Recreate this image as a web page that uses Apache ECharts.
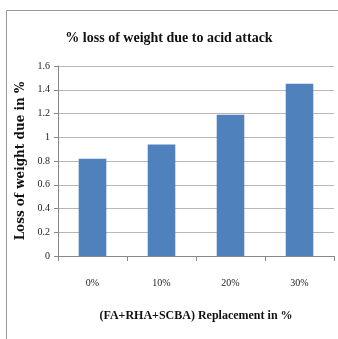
<!DOCTYPE html>
<html>
<head>
<meta charset="utf-8">
<script src="https://cdn.jsdelivr.net/npm/echarts@6/dist/echarts.min.js"></script>
<style>
    html, body { margin: 0; padding: 0; background: #fff; }
    #main { width: 338px; height: 339px; }
</style>
</head>
<body>
<div id="main"></div>
<script>
var categories = ['0%', '10%', '20%', '30%'];
var lossValues = [0.82, 0.94, 1.19, 1.45];   // % loss of weight
var yTicks = [0, 0.2, 0.4, 0.6, 0.8, 1, 1.2, 1.4, 1.6];

var serif = '"Liberation Serif", "Times New Roman", serif';

var myChart = echarts.init(document.getElementById('main'));
var option = {
    animation: false,
    title: {
        text: '% loss of weight due to acid attack',
        left: 'center',
        top: 26,
        textStyle: { fontFamily: serif, fontSize: 14, fontWeight: 'bold', color: '#111' }
    },
    // outer frame of the chart area (left and top edges only show)
    graphic: [
        { type: 'line', shape: { x1: 6.5, y1: 10.5, x2: 338, y2: 10.5 }, style: { stroke: '#999', lineWidth: 1 } },
        { type: 'line', shape: { x1: 6.5, y1: 10.5, x2: 6.5, y2: 339 }, style: { stroke: '#999', lineWidth: 1 } }
    ],
    grid: { left: 58, right: 4, top: 66, bottom: 83 },
    xAxis: {
        type: 'category',
        data: categories,
        name: '(FA+RHA+SCBA) Replacement in %',
        nameLocation: 'middle',
        nameGap: 54,
        nameTextStyle: { fontFamily: serif, fontSize: 12, fontWeight: 'bold', color: '#111' },
        axisLine: { lineStyle: { color: '#888' } },
        axisTick: { show: true, length: 5, lineStyle: { color: '#888' } },
        axisLabel: { margin: 22, fontFamily: serif, fontSize: 10, color: '#222' }
    },
    yAxis: {
        type: 'value',
        min: 0,
        max: 1.6,
        interval: 0.2,
        name: 'Loss of weight due in %',
        nameLocation: 'middle',
        nameGap: 29,
        nameTextStyle: { fontFamily: '"DejaVu Serif", serif', fontSize: 12, fontWeight: 'bold', color: '#111' },
        axisLine: { show: true, lineStyle: { color: '#888' } },
        axisTick: { show: true, length: 4, lineStyle: { color: '#888' } },
        splitLine: { lineStyle: { color: '#b8b8b8' } },
        axisLabel: {
            margin: 8, fontFamily: serif, fontSize: 10, color: '#222',
            formatter: function (v) {
                // match tick list
                for (var i = 0; i < yTicks.length; i++) {
                    if (Math.abs(yTicks[i] - v) < 1e-6) return String(yTicks[i]);
                }
                return '';
            }
        }
    },
    series: [{
        type: 'bar',
        data: lossValues,
        barCategoryGap: '60%',
        itemStyle: { color: '#4f81bd' }
    }]
};
myChart.setOption(option);
</script>
</body>
</html>
